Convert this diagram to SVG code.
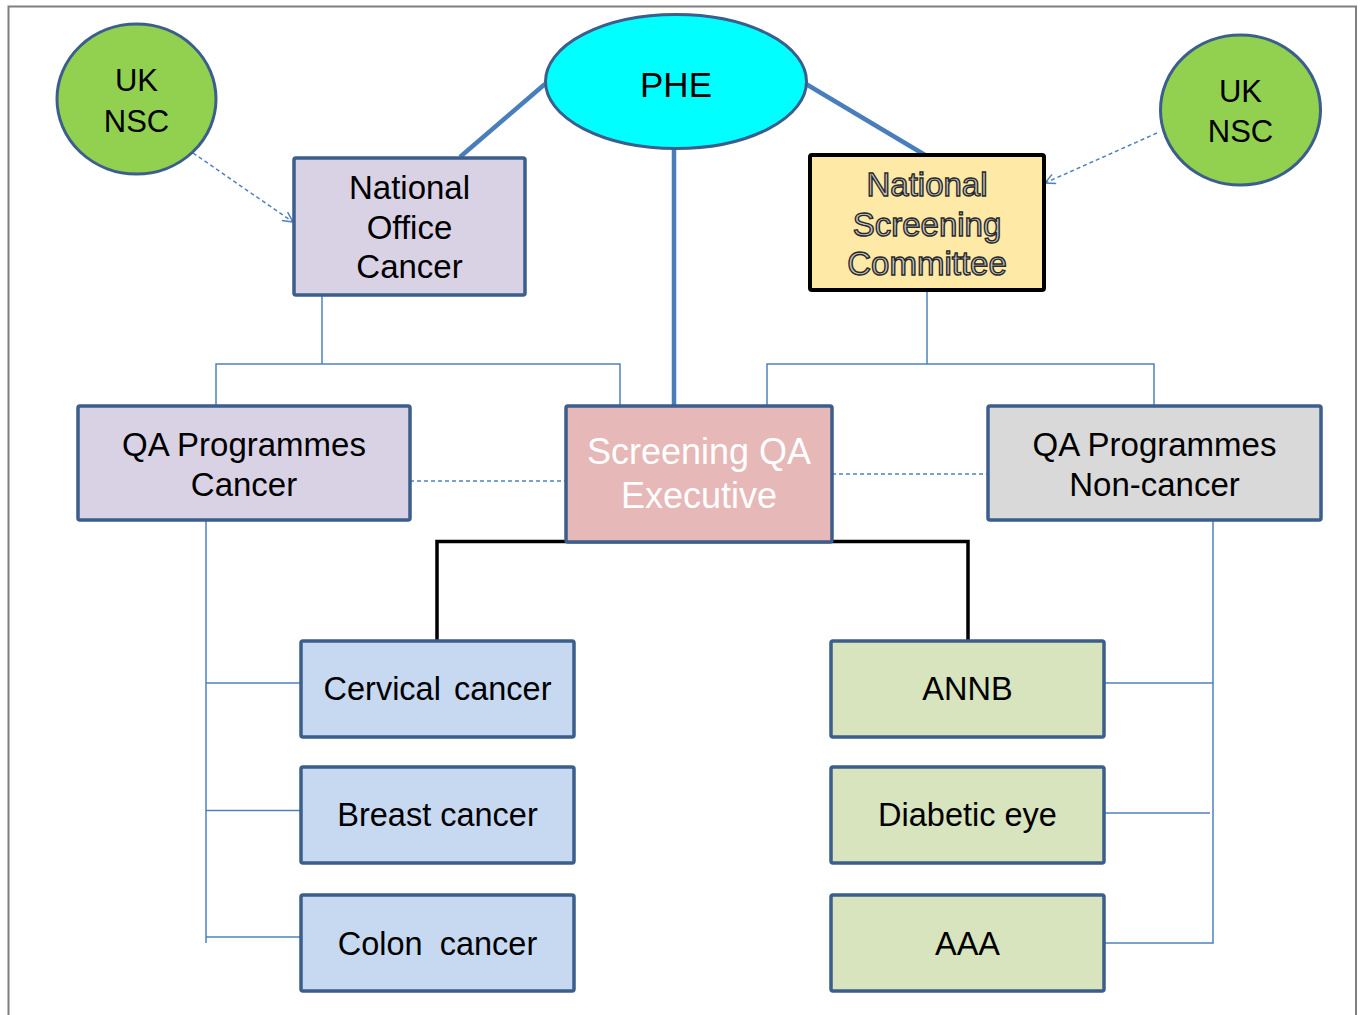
<svg xmlns="http://www.w3.org/2000/svg" width="1362" height="1015" viewBox="0 0 1362 1015">
<style>
  text { font-family: "Liberation Sans", Arial, sans-serif; text-anchor: middle; fill: #000; }
  .box { stroke: #3b5e8c; stroke-width: 3.5; }
  .thin { stroke: #4f81bd; stroke-width: 1.5; fill: none; }
  .dash { stroke: #4f81bd; stroke-width: 1.5; fill: none; stroke-dasharray: 4 3; }
  .thick { stroke: #4a7ebb; stroke-width: 4.5; fill: none; }
  .black { stroke: #000; stroke-width: 3.5; fill: none; }
  .t33 { font-size: 33px; }
  .outl { fill: #c4c4c4; stroke: #2a2a2a; stroke-width: 1.4px; font-size: 33px; }
</style>
<defs>
  <marker id="open" markerWidth="14" markerHeight="14" refX="12" refY="7" orient="auto" markerUnits="userSpaceOnUse">
    <path d="M2,2 L12,7 L2,12" fill="none" stroke="#4f81bd" stroke-width="1.5"/>
  </marker>
</defs>
<rect width="1362" height="1015" fill="#fff"/>
<path d="M8.5,1015 V6.5 H1356 V1015" fill="none" stroke="#7f7f7f" stroke-width="2"/>

<g id="connectors">
  <line class="thick" x1="545" y1="84" x2="460" y2="157"/>
  <line class="thick" x1="806" y1="84" x2="925" y2="155"/>
  <line class="thick" x1="674" y1="148" x2="674" y2="406" stroke-width="5"/>
  <path class="thin" d="M322,295 V364 M216,406 V364 H620 V406"/>
  <path class="thin" d="M927,290 V364 M767,406 V364 H1154 V406"/>
  <line class="dash" x1="410" y1="481" x2="566" y2="481"/>
  <line class="dash" x1="832" y1="474" x2="988" y2="474"/>
  <path class="black" d="M437,641 V541.5 H968 V641"/>
  <path class="thin" d="M206,520 V943 M206,683 H301 M206,810.5 H301 M206,937 H301"/>
  <path class="thin" d="M1213,520 V943 H1104 M1104,683 H1213 M1099,813 H1210"/>
  <line class="dash" x1="193" y1="153" x2="293" y2="222" marker-end="url(#open)"/>
  <line class="dash" x1="1157" y1="133" x2="1045" y2="183" marker-end="url(#open)"/>
</g>

<g id="uknsc-left">
  <ellipse cx="136.5" cy="99" rx="79.5" ry="75" fill="#92d050" stroke="#3b5e8c" stroke-width="3"/>
  <text x="136.5" y="91" font-size="31">UK</text>
  <text x="136.5" y="132" font-size="31">NSC</text>
</g>
<g id="uknsc-right">
  <ellipse cx="1240.5" cy="110" rx="80" ry="75" fill="#92d050" stroke="#3b5e8c" stroke-width="3"/>
  <text x="1240.5" y="102" font-size="31">UK</text>
  <text x="1240.5" y="142" font-size="31">NSC</text>
</g>
<g id="phe">
  <ellipse cx="676" cy="81.5" rx="130.5" ry="67" fill="#00ffff" stroke="#3b5e8c" stroke-width="3"/>
  <text x="676" y="97" font-size="35">PHE</text>
</g>
<g id="national-office-cancer">
  <rect class="box" x="294" y="158" width="231" height="137" rx="2" fill="#d9d2e5"/>
  <text class="t33" x="409.5" y="199">National</text>
  <text class="t33" x="409.5" y="239">Office</text>
  <text class="t33" x="409.5" y="278">Cancer</text>
</g>
<g id="national-screening-committee">
  <rect x="810" y="155" width="234" height="135" rx="2" fill="#ffe9a6" stroke="#000" stroke-width="4"/>
  <text class="outl" x="927" y="196">National</text>
  <text class="outl" x="927" y="236">Screening</text>
  <text class="outl" x="927" y="275">Committee</text>
</g>
<g id="qa-programmes-cancer">
  <rect class="box" x="78" y="406" width="332" height="114" rx="2" fill="#d9d2e5"/>
  <text class="t33" x="244" y="456">QA Programmes</text>
  <text class="t33" x="244" y="496">Cancer</text>
</g>
<g id="screening-qa-executive">
  <rect class="box" x="566" y="406" width="266" height="136" rx="2" fill="#e6b8b7"/>
  <text x="699" y="464" font-size="36" style="fill:#fff">Screening QA</text>
  <text x="699" y="508" font-size="36" style="fill:#fff">Executive</text>
</g>
<g id="qa-programmes-noncancer">
  <rect class="box" x="988" y="406" width="333" height="114" rx="2" fill="#d9d9d9"/>
  <text class="t33" x="1154.5" y="456">QA Programmes</text>
  <text class="t33" x="1154.5" y="496">Non-cancer</text>
</g>
<g id="cervical-cancer">
  <rect class="box" x="301" y="641" width="273" height="96" rx="2" fill="#c6d9f1"/>
  <text x="437.5" y="700" font-size="32.5" word-spacing="4">Cervical cancer</text>
</g>
<g id="breast-cancer">
  <rect class="box" x="301" y="767" width="273" height="96" rx="2" fill="#c6d9f1"/>
  <text x="437.5" y="826" font-size="32.5">Breast cancer</text>
</g>
<g id="colon-cancer">
  <rect class="box" x="301" y="895" width="273" height="96" rx="2" fill="#c6d9f1"/>
  <text x="437.5" y="955" font-size="32.5" word-spacing="8">Colon cancer</text>
</g>
<g id="annb">
  <rect class="box" x="831" y="641" width="273" height="96" rx="2" fill="#d7e4bd"/>
  <text x="967.5" y="700" font-size="32.5">ANNB</text>
</g>
<g id="diabetic-eye">
  <rect class="box" x="831" y="767" width="273" height="96" rx="2" fill="#d7e4bd"/>
  <text x="967.5" y="826" font-size="32.5">Diabetic eye</text>
</g>
<g id="aaa">
  <rect class="box" x="831" y="895" width="273" height="96" rx="2" fill="#d7e4bd"/>
  <text x="967.5" y="955" font-size="32.5">AAA</text>
</g>
</svg>
